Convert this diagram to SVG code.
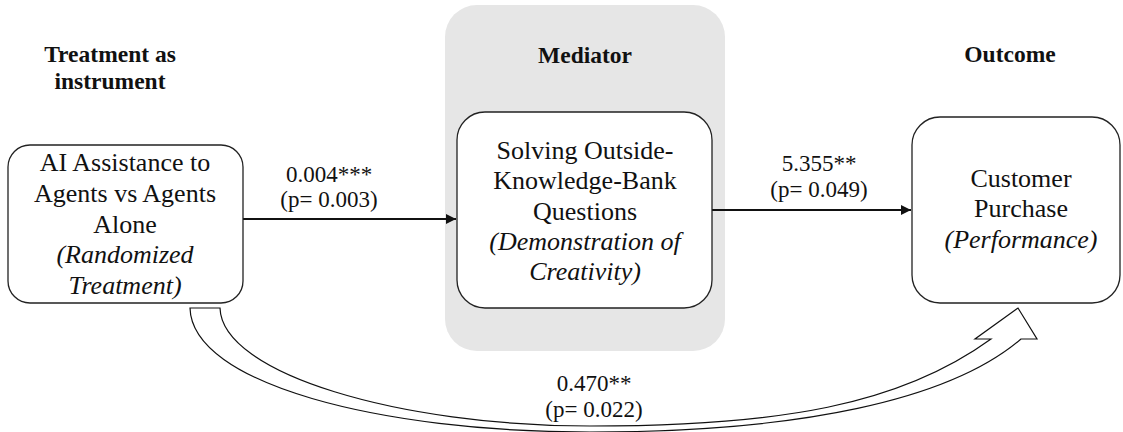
<svg xmlns="http://www.w3.org/2000/svg" width="1123" height="432" viewBox="0 0 1123 432">
<style>
.box{fill:#fff;stroke:#222;stroke-width:1.3}
.t{font-family:"Liberation Serif","Times New Roman",serif;font-size:26px;fill:#111;text-anchor:middle}
.i{font-style:italic}
.h{font-family:"Liberation Serif","Times New Roman",serif;font-size:23.5px;font-weight:bold;fill:#111;text-anchor:middle}
.e{font-family:"Liberation Serif","Times New Roman",serif;font-size:23px;fill:#111;text-anchor:middle}
.c{stroke:#111;stroke-width:2;fill:none}
</style>
<defs>
<marker id="ah" viewBox="0 0 10 10" refX="10" refY="5" markerWidth="5" markerHeight="5" orient="auto" markerUnits="strokeWidth">
<path d="M0,0 L10,5 L0,10 Z" fill="#111"/>
</marker>
</defs>
<rect width="1123" height="432" fill="#fff"/>
<g id="mediator-panel">
<rect x="445" y="5" width="280" height="346" rx="32" fill="#e6e6e6"/>
<text class="h" x="585" y="63">Mediator</text>
</g>
<g id="header-treatment">
<text class="h" x="110" y="62">Treatment as</text>
<text class="h" x="110" y="89">instrument</text>
</g>
<g id="header-outcome">
<text class="h" x="1010" y="62">Outcome</text>
</g>
<g id="connectors">
<line class="c" x1="243" y1="219" x2="456" y2="219" marker-end="url(#ah)"/>
<line class="c" x1="712" y1="210" x2="911" y2="210" marker-end="url(#ah)"/>
<path d="M220,308 C222,374 400,426 590,426 C780,426 900,405 991,339 L975,339 L1018,308 L1037,339 L1021,339 C950,400 800,432 590,432 C380,432 192,384 190,308 Z" fill="#fff" stroke="#111" stroke-width="1.2"/>
<text class="e" x="329" y="182">0.004***</text>
<text class="e" x="329" y="207">(p= 0.003)</text>
<text class="e" x="819" y="171">5.355**</text>
<text class="e" x="819" y="197">(p= 0.049)</text>
<text class="e" x="594" y="391">0.470**</text>
<text class="e" x="594" y="417">(p= 0.022)</text>
</g>
<g id="node-treatment">
<rect class="box" x="8" y="145" width="235" height="158" rx="22"/>
<text class="t" x="125" y="171">AI Assistance to</text>
<text class="t" x="125" y="202">Agents vs Agents</text>
<text class="t" x="125" y="233">Alone</text>
<text class="t i" x="125" y="263">(Randomized</text>
<text class="t i" x="125" y="294">Treatment)</text>
</g>
<g id="node-mediator">
<rect class="box" x="457" y="112" width="255" height="196" rx="28"/>
<text class="t" x="585" y="159">Solving Outside-</text>
<text class="t" x="585" y="189">Knowledge-Bank</text>
<text class="t" x="585" y="220">Questions</text>
<text class="t i" x="585" y="250">(Demonstration of</text>
<text class="t i" x="585" y="280">Creativity)</text>
</g>
<g id="node-outcome">
<rect class="box" x="912" y="117" width="208" height="186" rx="28"/>
<text class="t" x="1021" y="187">Customer</text>
<text class="t" x="1021" y="217">Purchase</text>
<text class="t i" x="1021" y="248">(Performance)</text>
</g>
</svg>
